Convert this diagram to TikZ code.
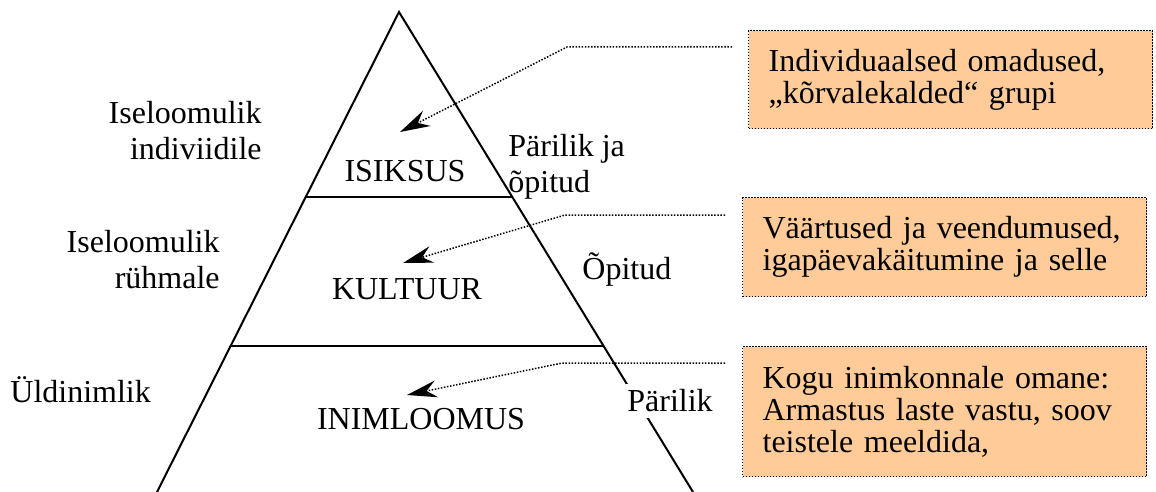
\documentclass[tikz,border=0pt]{standalone}
\usepackage{fontspec}
\setmainfont{Liberation Serif}
\usepackage{tikz}
\definecolor{notefill}{HTML}{FFCC99}
\tikzset{edge/.style={line width=1pt},
         layer/.style={font=\fontsize{16}{18}\selectfont,inner sep=0pt},
         side/.style={font=\fontsize{16}{18}\selectfont,inner sep=0pt},
         note/.style={draw,line width=0.6pt,dash pattern=on 0.6pt off 0.9pt,fill=notefill,
                      anchor=north west,text width=182pt,inner xsep=10pt,align=left,
                      font=\fontsize{16}{16}\selectfont},
         pointer/.style={line width=0.75pt,dash pattern=on 0.75pt off 0.8pt,
                         -{Stealth[length=15pt,width=8.5pt,inset=5pt]}}}
\usetikzlibrary{arrows.meta}

\begin{document}
\begin{tikzpicture}[x=0.5pt,y=-0.5pt]
\useasboundingbox (0,0) rectangle (1156,492);

% pyramid
\draw[edge] (157,492) -- (399,12) -- (693,492);
\draw[edge] (305.7,197) -- (512.3,197);
\draw[edge] (230.6,346) -- (603.6,346);

\node[layer] (isiksus) at (405,171) {ISIKSUS};
\node[layer] (kultuur) at (407,289) {KULTUUR};
\node[layer] (inimloomus) at (421,419) {INIMLOOMUS};

\node[side,align=right,anchor=east] (indiv) at (262,131) {Iseloomulik\\indiviidile};
\node[side,align=right,anchor=east] (ryhm) at (220,260) {Iseloomulik\\rühmale};
\node[side,anchor=west] (yld) at (10,390) {Üldinimlik};

\node[side,align=left,anchor=west] (parop) at (508,167) {Pärilik ja\\õpitud};
\node[side,anchor=west] (opit) at (582,270) {Õpitud};
\node[side,fill=white,inner sep=3pt] (paril) at (670,401) {Pärilik};

% explanations
\node[note,minimum height=49pt] (indbox) at (748,30)
  {Individuaalsed omadused,\\„kõrvalekalded“ grupi};
\node[note,minimum height=49.5pt] (kultbox) at (742,197)
  {Väärtused ja veendumused,\\igapäevakäitumine ja selle};
\node[note,minimum height=65pt] (inimbox) at (742,346)
  {Kogu inimkonnale omane:\\Armastus laste vastu, soov\\teistele meeldida,};

\coordinate (istip) at (400,132);
\coordinate (kuttip) at (403,263);
\coordinate (inimtip) at (407,395);

\draw[pointer] (indbox.north west) ++(-16,17) -- ++(-165,0) -- (istip);
\draw[pointer] (kultbox.north west) ++(-17,18) -- ++(-160,0) -- (kuttip);
\draw[pointer] (inimbox.north west) ++(-17,17) -- ++(-163,0) -- (inimtip);
\end{tikzpicture}
\end{document}
